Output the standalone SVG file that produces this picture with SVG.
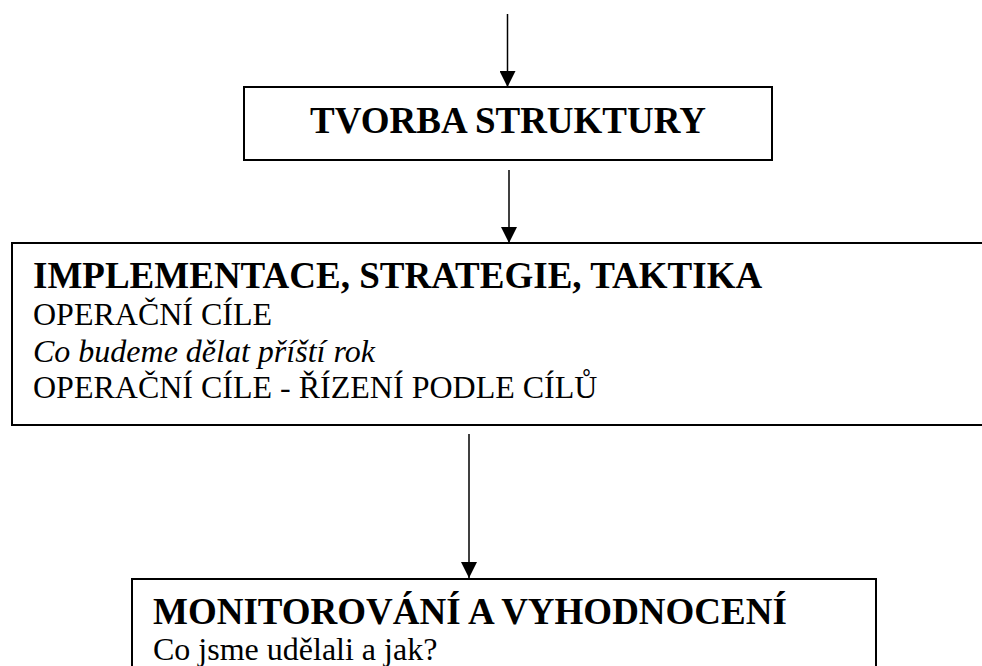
<svg xmlns="http://www.w3.org/2000/svg" width="982" height="666" viewBox="0 0 982 666">
<style>
.box{fill:#fff;stroke:#000;stroke-width:2}
.t{font-family:"Liberation Serif","Times New Roman",serif;fill:#000}
.b{font-weight:bold;font-size:37px}
.r{font-size:32px}
.i{font-style:italic}
.c{stroke:#000;stroke-width:1.5;fill:none}
</style>
<defs>
<marker id="ah" markerUnits="userSpaceOnUse" markerWidth="16" markerHeight="16" viewBox="0 0 16 16" refX="16" refY="8" orient="auto">
<path d="M0,0 L16,8 L0,16 Z" fill="#000"/>
</marker>
</defs>
<rect width="982" height="666" fill="#fff"/>
<g id="connectors">
<line class="c" x1="507.5" y1="14" x2="507.5" y2="87" marker-end="url(#ah)"/>
<line class="c" x1="509" y1="170" x2="509" y2="243" marker-end="url(#ah)"/>
<line class="c" x1="469" y1="434" x2="469" y2="578" marker-end="url(#ah)"/>
</g>
<g id="tvorba">
<rect class="box" x="244" y="87" width="528" height="73"/>
<text class="t b" x="508" y="133" text-anchor="middle">TVORBA STRUKTURY</text>
</g>
<g id="implementace">
<rect class="box" x="12" y="243" width="1000" height="182"/>
<text class="t b" x="33" y="288">IMPLEMENTACE, STRATEGIE, TAKTIKA</text>
<text class="t r" x="33" y="325">OPERAČNÍ CÍLE</text>
<text class="t r i" x="33" y="362">Co budeme dělat příští rok</text>
<text class="t r" x="33" y="398">OPERAČNÍ CÍLE - ŘÍZENÍ PODLE CÍLŮ</text>
</g>
<g id="monitorovani">
<rect class="box" x="132" y="579" width="744" height="120"/>
<text class="t b" x="153" y="624">MONITOROVÁNÍ A VYHODNOCENÍ</text>
<text class="t r" x="153" y="660">Co jsme udělali a jak?</text>
</g>
</svg>
